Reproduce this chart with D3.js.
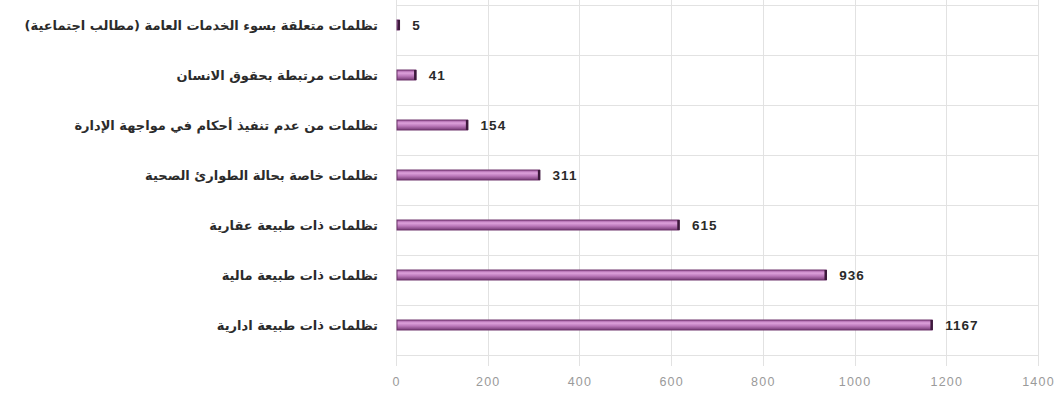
<!DOCTYPE html>
<html lang="ar">
<head>
<meta charset="utf-8">
<script src="https://cdn.jsdelivr.net/npm/d3@7"></script>
<style>
  html, body { margin: 0; padding: 0; background: #ffffff; }
  svg { display: block; }
</style>
</head>
<body>
<script>
// Complaint categories (top to bottom) and their counts
const categories = [
  "تظلمات متعلقة بسوء الخدمات العامة (مطالب اجتماعية)",
  "تظلمات مرتبطة بحقوق الانسان",
  "تظلمات من عدم تنفيذ أحكام في مواجهة الإدارة",
  "تظلمات خاصة بحالة الطوارئ الصحية",
  "تظلمات ذات طبيعة عقارية",
  "تظلمات ذات طبيعة مالية",
  "تظلمات ذات طبيعة ادارية"
];
const counts = [5, 41, 154, 311, 615, 936, 1167];
const xTicks = [0, 200, 400, 600, 800, 1000, 1200, 1400];

const W = 1059, H = 396;
const svg = d3.select("body").append("svg").attr("width", W).attr("height", H);

const x = d3.scaleLinear().domain([0, 1400]).range([396, 1038]);
const y = d3.scaleBand().domain(categories).range([0, 350]).padding(0);

// bar gradient: purple edges with a lighter pink core
const defs = svg.append("defs");
const grad = defs.append("linearGradient").attr("id", "barFill")
  .attr("x1", 0).attr("y1", 0).attr("x2", 0).attr("y2", 1);
grad.append("stop").attr("offset", "0%").attr("stop-color", "#9a5299");
grad.append("stop").attr("offset", "30%").attr("stop-color", "#dea2dc");
grad.append("stop").attr("offset", "60%").attr("stop-color", "#bb78ba");
grad.append("stop").attr("offset", "100%").attr("stop-color", "#773a76");

// grid
const grid = svg.append("g").attr("stroke", "#e2e2e2").attr("stroke-width", 1);
grid.selectAll("line.v").data(xTicks).join("line")
  .attr("class", "v")
  .attr("x1", d => Math.round(x(d)) + 0.5).attr("x2", d => Math.round(x(d)) + 0.5)
  .attr("y1", 0).attr("y2", 366);
const hLines = categories.map(c => y(c) + 5).concat([y.range()[1] + 5]);
grid.selectAll("line.h").data(hLines).join("line")
  .attr("class", "h")
  .attr("x1", x(0)).attr("x2", x(1400))
  .attr("y1", d => Math.round(d) + 0.5).attr("y2", d => Math.round(d) + 0.5);

// bars
const barH = 10;
const rowCenter = c => y(c) + y.bandwidth() / 2;
svg.append("g").selectAll("rect").data(categories).join("rect")
  .attr("x", x(0) + 1)
  .attr("y", c => rowCenter(c) - barH / 2)
  .attr("width", (c, i) => Math.max(2, x(counts[i]) - x(0)))
  .attr("height", barH)
  .attr("fill", "url(#barFill)")
  .attr("stroke", "#6e356d")
  .attr("stroke-width", 1);

// dark end caps
svg.append("g").selectAll("line").data(categories).join("line")
  .attr("x1", (c, i) => x(counts[i]) + 0.5).attr("x2", (c, i) => x(counts[i]) + 0.5)
  .attr("y1", c => rowCenter(c) - barH / 2)
  .attr("y2", c => rowCenter(c) + barH / 2)
  .attr("stroke", "#3d1a3c").attr("stroke-width", 2.5);

// value labels
svg.append("g").selectAll("text").data(categories).join("text")
  .attr("x", (c, i) => x(counts[i]) + 14)
  .attr("y", c => rowCenter(c))
  .attr("dy", "0.35em")
  .attr("font-family", "'Liberation Sans', Arial, sans-serif")
  .attr("font-size", 13.5)
  .attr("font-weight", "bold")
  .attr("letter-spacing", 1)
  .attr("fill", "#2a2a2a")
  .text((c, i) => counts[i]);

// category labels, right-aligned against the axis
svg.append("g").selectAll("text").data(categories).join("text")
  .attr("x", 378)
  .attr("y", c => rowCenter(c))
  .attr("dy", "0.35em")
  .attr("text-anchor", "start")
  .attr("direction", "rtl")
  .style("unicode-bidi", "embed")
  .attr("font-family", "'DejaVu Sans', sans-serif")
  .attr("font-size", 13)
  .attr("font-weight", "bold")
  .attr("fill", "#2b2b2b")
  .text(c => c);

// x axis tick labels
const xAxis = d3.axisBottom(x).tickValues(xTicks).tickFormat(d3.format("d"))
  .tickSize(0).tickPadding(0);
const ax = svg.append("g").attr("transform", "translate(0,377)").call(xAxis);
ax.select(".domain").remove();
ax.selectAll("text")
  .attr("font-family", "'Liberation Sans', Arial, sans-serif")
  .attr("font-size", 12.5)
  .attr("letter-spacing", 1.2)
  .attr("fill", "#9a9a9a");
</script>
</body>
</html>
